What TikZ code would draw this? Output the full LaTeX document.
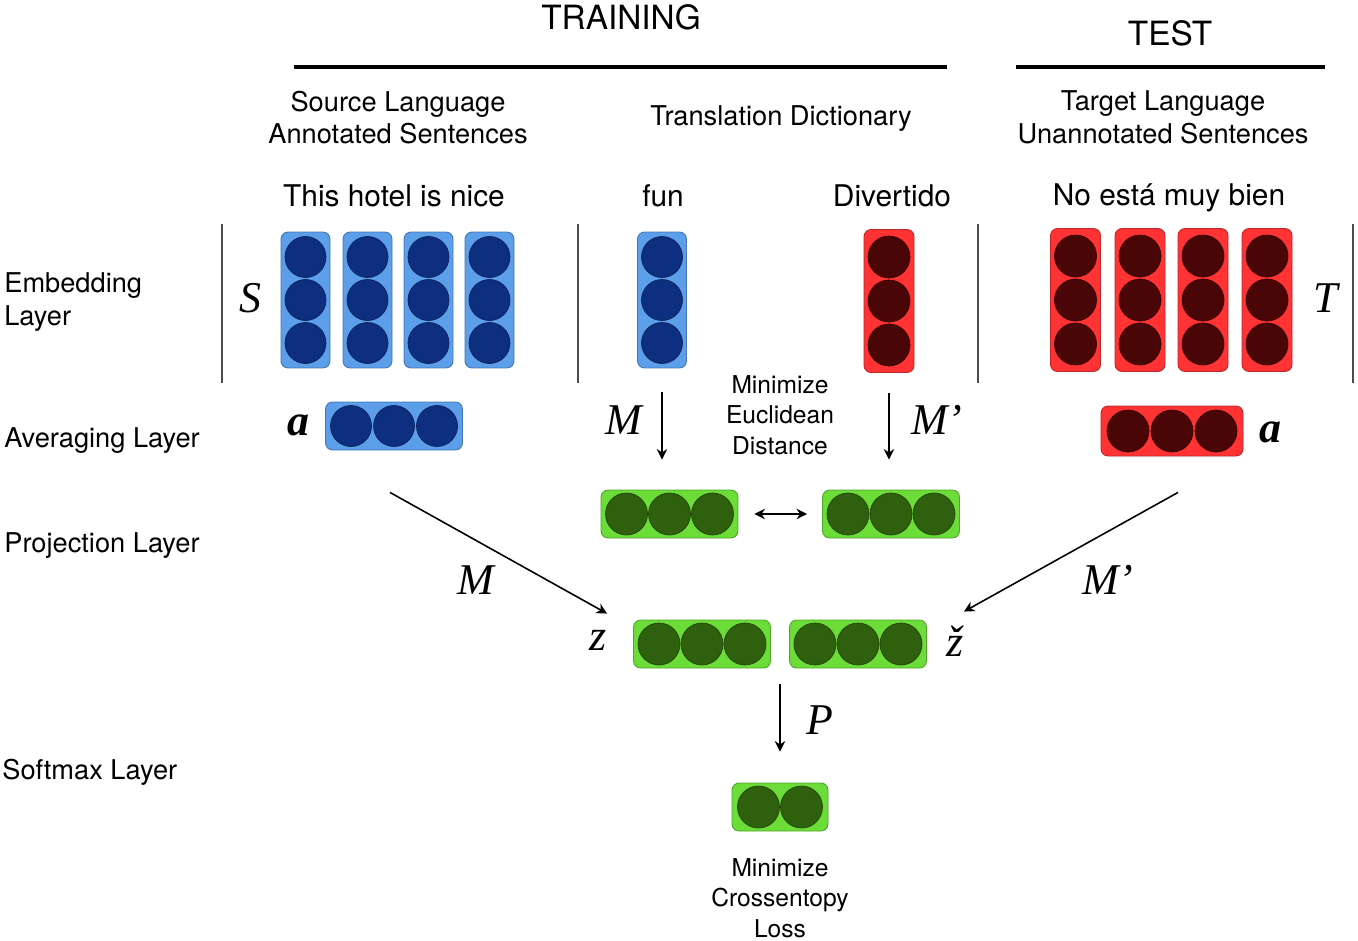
\documentclass[tikz,border=0pt]{standalone}
\usepackage{fontspec}
\setmainfont{TeX Gyre Heros}
\newfontfamily\letterfont{Liberation Serif}
\usepackage{tikz}
\usepackage{xcolor}
\usetikzlibrary{arrows.meta,calc}
\definecolor{bluebox}{HTML}{5C9EEA}
\definecolor{bluedot}{HTML}{0E2F80}
\definecolor{redbox}{HTML}{FF3333}
\definecolor{reddot}{HTML}{4A0606}
\definecolor{greenbox}{HTML}{6BDC38}
\definecolor{greendot}{HTML}{2F600D}

\begin{document}
\begin{tikzpicture}[x=0.02cm,y=-0.02cm,
    vec/.style={draw=#1!75!black, line width=0.5pt, fill=#1, rounded corners=4pt, inner sep=0pt},
    tallvec/.style={minimum width=0.98cm, minimum height=2.72cm},
    widevec/.style={minimum width=2.74cm, minimum height=0.96cm},
    dot/.style={fill=#1, draw=#1!70!black, line width=0.4pt},
    arr/.style={-{Stealth[length=6pt,width=6pt]}, line width=0.9pt},
    sep/.style={draw=black!70, line width=1.1pt},
    bar/.style={line width=2.6pt},
    head/.style={font=\fontsize{19}{22}\selectfont},
    desc/.style={font=\fontsize{15.5}{18.7}\selectfont, align=center},
    sent/.style={font=\fontsize{17}{20}\selectfont},
    layer/.style={font=\fontsize{15.5}{18.7}\selectfont, align=left, anchor=west, inner xsep=0pt},
    note/.style={font=\fontsize{14}{17.3}\selectfont, align=center},
    var/.style={font=\letterfont\itshape\fontsize{25}{30}\selectfont},
    bvar/.style={font=\letterfont\bfseries\itshape\fontsize{25}{30}\selectfont}]
    \useasboundingbox (0,0) rectangle (1358,940);
    \node[head] (training) at (621,17) {TRAINING};
    \node[head] (test) at (1170,33) {TEST};
    \draw[bar] (294,67)--(947,67);
    \draw[bar] (1016,67)--(1325,67);
    \node[desc] (srchead) at (398,117.5) {Source Language\\Annotated Sentences};
    \node[desc] (dicthead) at (781,119) {Translation Dictionary};
    \node[desc] (tgthead) at (1163,117.5) {Target Language\\Unannotated Sentences};
    \node[sent] (srcsent) at (394,196) {This hotel is nice};
    \node[sent] (funword) at (663,196) {fun};
    \node[sent] (divword) at (892,196) {Divertido};
    \node[sent] (tgtsent) at (1169,198) {No está muy bien};
    \node[layer] (embedlayer) at (4,302) {Embedding\\Layer};
    \node[layer] (avglayer) at (4,441) {Averaging Layer};
    \node[layer] (projlayer) at (4,546) {Projection Layer};
    \node[layer] (softlayer) at (2,772) {Softmax Layer};
    \foreach \x in {222,578,978,1353}
        \draw[sep] (\x,224)--(\x,383);
    \foreach \x [count=\i] in {305.5,367.5,428.5,489.5} {
        \node[vec=bluebox, tallvec] (s\i) at (\x,300) {};
        \foreach \d in {-43,0,43}
            \filldraw[dot=bluedot] ($(s\i)+(0,\d)$) circle (0.41cm);
    }
    \foreach \x [count=\i] in {1075.5,1140,1203,1267} {
        \node[vec=redbox, tallvec, minimum height=2.86cm, minimum width=1cm] (t\i) at (\x,300) {};
        \foreach \d in {-44,0,44}
            \filldraw[dot=reddot] ($(t\i)+(0,\d)$) circle (0.42cm);
    }
    \node[vec=bluebox, tallvec] (fun) at (662,300) {};
    \foreach \d in {-43,0,43}
        \filldraw[dot=bluedot] ($(fun)+(0,\d)$) circle (0.41cm);
    \node[vec=redbox, tallvec, minimum height=2.86cm, minimum width=1cm] (div) at (889,301) {};
    \foreach \d in {-44,0,44}
        \filldraw[dot=reddot] ($(div)+(0,\d)$) circle (0.42cm);
    \node[vec=bluebox, widevec] (avgS) at (394,426) {};
    \foreach \d in {-43,0,43}
        \filldraw[dot=bluedot] ($(avgS)+(\d,0)$) circle (0.41cm);
    \node[vec=redbox, widevec, minimum width=2.84cm, minimum height=1cm] (avgT) at (1172,431) {};
    \foreach \d in {-44,0,44}
        \filldraw[dot=reddot] ($(avgT)+(\d,0)$) circle (0.42cm);
    \foreach \n/\x/\y in {projL/669.5/514, projR/891/514, zL/702/644, zR/858/644} {
        \node[vec=greenbox, widevec] (\n) at (\x,\y) {};
        \foreach \d in {-43,0,43}
            \filldraw[dot=greendot] ($(\n)+(\d,0)$) circle (0.42cm);
    }
    \node[vec=greenbox, widevec, minimum width=1.92cm] (soft) at (780,807) {};
    \foreach \d in {-21.5,21.5}
        \filldraw[dot=greendot] ($(soft)+(\d,0)$) circle (0.42cm);
    \node[var] (Slab) at (250,298) {S};
    \node[var] (Tlab) at (1326,298) {T};
    \node[bvar] (aS) at (298,425) {a};
    \node[bvar] (aT) at (1270,432) {a};
    \node[var] (Mtop) at (624,420) {M};
    \node[var] (Mptop) at (937,420) {M’};
    \node[var] (zlab) at (598,640) {z};
    \node[var] (zclab) at (955,641) {ž};
    \node[var] (Mdiag) at (476,580) {M};
    \node[var] (Mpdiag) at (1108,580) {M’};
    \node[var] (Plab) at (820,720) {P};
    \node[note] (euclid) at (780,415) {Minimize\\Euclidean\\Distance};
    \node[note] (crossent) at (780,898) {Minimize\\Crossentopy\\Loss};
    \draw[arr, shorten <=0.48cm, shorten >=0.6cm] (fun.south)--(fun.south |- projL.north);
    \draw[arr, shorten <=0.4cm, shorten >=0.6cm] (div.south)--(div.south |- projR.north);
    \draw[{Stealth[length=6pt,width=6pt]}-{Stealth[length=6pt,width=6pt]}, line width=0.9pt, shorten <=0.32cm, shorten >=0.3cm] (projL.east)--(projR.west);
    \draw[arr] ($(avgS.south)+(-4,42)$)--($(zL.north west)+(-26,-6)$);
    \draw[arr] ($(avgT.south)+(6,36)$)--($(zR.north east)+(37,-8)$);
    \draw[arr, shorten <=0.32cm, shorten >=0.62cm] ($(zL.south east)!0.5!(zR.south west)$)--(soft.north);
\end{tikzpicture}
\end{document}
